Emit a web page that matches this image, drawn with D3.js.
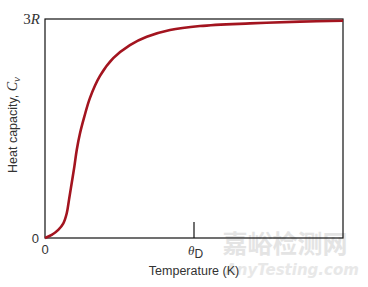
<!DOCTYPE html>
<html>
<head>
<meta charset="utf-8">
<script src="https://cdn.jsdelivr.net/npm/d3@7"></script>
<style>
  body { margin: 0; background: #fff; }
  svg { display: block; }
</style>
</head>
<body>
<script>
  var w = 368;
  var h = 287;
  var margin = {top: 19, right: 25, bottom: 49, left: 45};

  // T in units of theta_D, C_v in units of 3R
  var temps = [0, 0.045, 0.089, 0.123, 0.146, 0.161, 0.179, 0.197, 0.213, 0.235, 0.264,
               0.302, 0.369, 0.458, 0.570, 0.683, 0.839, 1.04, 1.376, 1.711, 2.0];
  var heatCap = [0, 0.014, 0.037, 0.067, 0.113, 0.174, 0.250, 0.326, 0.402, 0.478, 0.554,
                 0.640, 0.740, 0.821, 0.881, 0.919, 0.950, 0.968, 0.980, 0.988, 0.992];
  var xTicks = [0, 1];
  var yTicks = [0, 1];

  var svg = d3.select("body").append("svg")
              .attr("width", w)
              .attr("height", h);

  var x = d3.scaleLinear().domain([0, 2]).range([margin.left, w - margin.right]);
  var y = d3.scaleLinear().domain([0, 1]).range([h - margin.bottom, margin.top]);

  // watermark
  svg.append("text")
     .attr("x", 285).attr("y", 253)
     .attr("text-anchor", "middle")
     .attr("font-family", "Noto Sans CJK SC")
     .attr("font-weight", "bold")
     .attr("font-size", 25)
     .attr("fill", "#e4e4e4")
     .text("嘉峪检测网");
  svg.append("text")
     .attr("x", 292).attr("y", 275)
     .attr("text-anchor", "middle")
     .attr("font-family", "DejaVu Sans")
     .attr("font-style", "italic")
     .attr("font-weight", "bold")
     .attr("font-size", 15)
     .attr("fill", "#e8e8e8")
     .text("AnyTesting.com");

  // frame
  svg.append("rect")
     .attr("x", x(0)).attr("y", y(1))
     .attr("width", x(2) - x(0))
     .attr("height", y(0) - y(1))
     .attr("fill", "none")
     .attr("stroke", "#111")
     .attr("stroke-width", 1.2);

  // theta_D tick
  svg.append("line")
     .attr("x1", x(1)).attr("x2", x(1))
     .attr("y1", y(0)).attr("y2", y(0) - 16)
     .attr("stroke", "#111")
     .attr("stroke-width", 1.2);

  var line = d3.line()
               .x(function(d, i){ return x(temps[i]); })
               .y(function(d){ return y(d); })
               .curve(d3.curveCatmullRom.alpha(0.5));

  svg.append("path")
     .datum(heatCap)
     .attr("d", line)
     .attr("fill", "none")
     .attr("stroke", "#a3141f")
     .attr("stroke-width", 2.6);

  // x tick labels
  svg.append("text")
     .attr("x", x(xTicks[0])).attr("y", y(0) + 16)
     .attr("text-anchor", "middle")
     .attr("font-family", "Liberation Sans")
     .attr("font-size", 13)
     .attr("fill", "#333")
     .text("0");
  var td = svg.append("text")
     .attr("x", x(xTicks[1]) - 6).attr("y", y(0) + 17)
     .attr("font-size", 13)
     .attr("fill", "#333");
  td.append("tspan")
    .attr("font-family", "Liberation Serif")
    .attr("font-style", "italic")
    .text("θ");
  td.append("tspan")
    .attr("font-family", "Liberation Sans")
    .attr("font-size", 12)
    .attr("dy", 3)
    .text("D");

  // y tick labels
  svg.append("text")
     .attr("x", 39).attr("y", y(yTicks[0]) + 5)
     .attr("text-anchor", "end")
     .attr("font-family", "Liberation Sans")
     .attr("font-size", 13)
     .attr("fill", "#333")
     .text("0");
  var r3 = svg.append("text")
     .attr("x", 40).attr("y", y(yTicks[1]) + 5)
     .attr("text-anchor", "end")
     .attr("font-family", "Liberation Serif")
     .attr("font-size", 15)
     .attr("fill", "#333");
  r3.append("tspan").text("3");
  r3.append("tspan").attr("font-style", "italic").text("R");

  // axis titles
  svg.append("text")
     .attr("x", x(1)).attr("y", 275)
     .attr("text-anchor", "middle")
     .attr("font-family", "Liberation Sans")
     .attr("font-size", 12.5)
     .attr("fill", "#333")
     .text("Temperature (K)");

  var yl = svg.append("text")
     .attr("transform", "translate(17,125) rotate(-90)")
     .attr("text-anchor", "middle")
     .attr("font-family", "Liberation Sans")
     .attr("font-size", 12.5)
     .attr("fill", "#333");
  yl.append("tspan").text("Heat capacity, ");
  yl.append("tspan")
    .attr("font-family", "Liberation Serif")
    .attr("font-style", "italic")
    .attr("font-size", 14)
    .text("C");
  yl.append("tspan")
    .attr("font-family", "Liberation Serif")
    .attr("font-style", "italic")
    .attr("font-size", 11)
    .attr("dy", 3)
    .text("v");
</script>
</body>
</html>
